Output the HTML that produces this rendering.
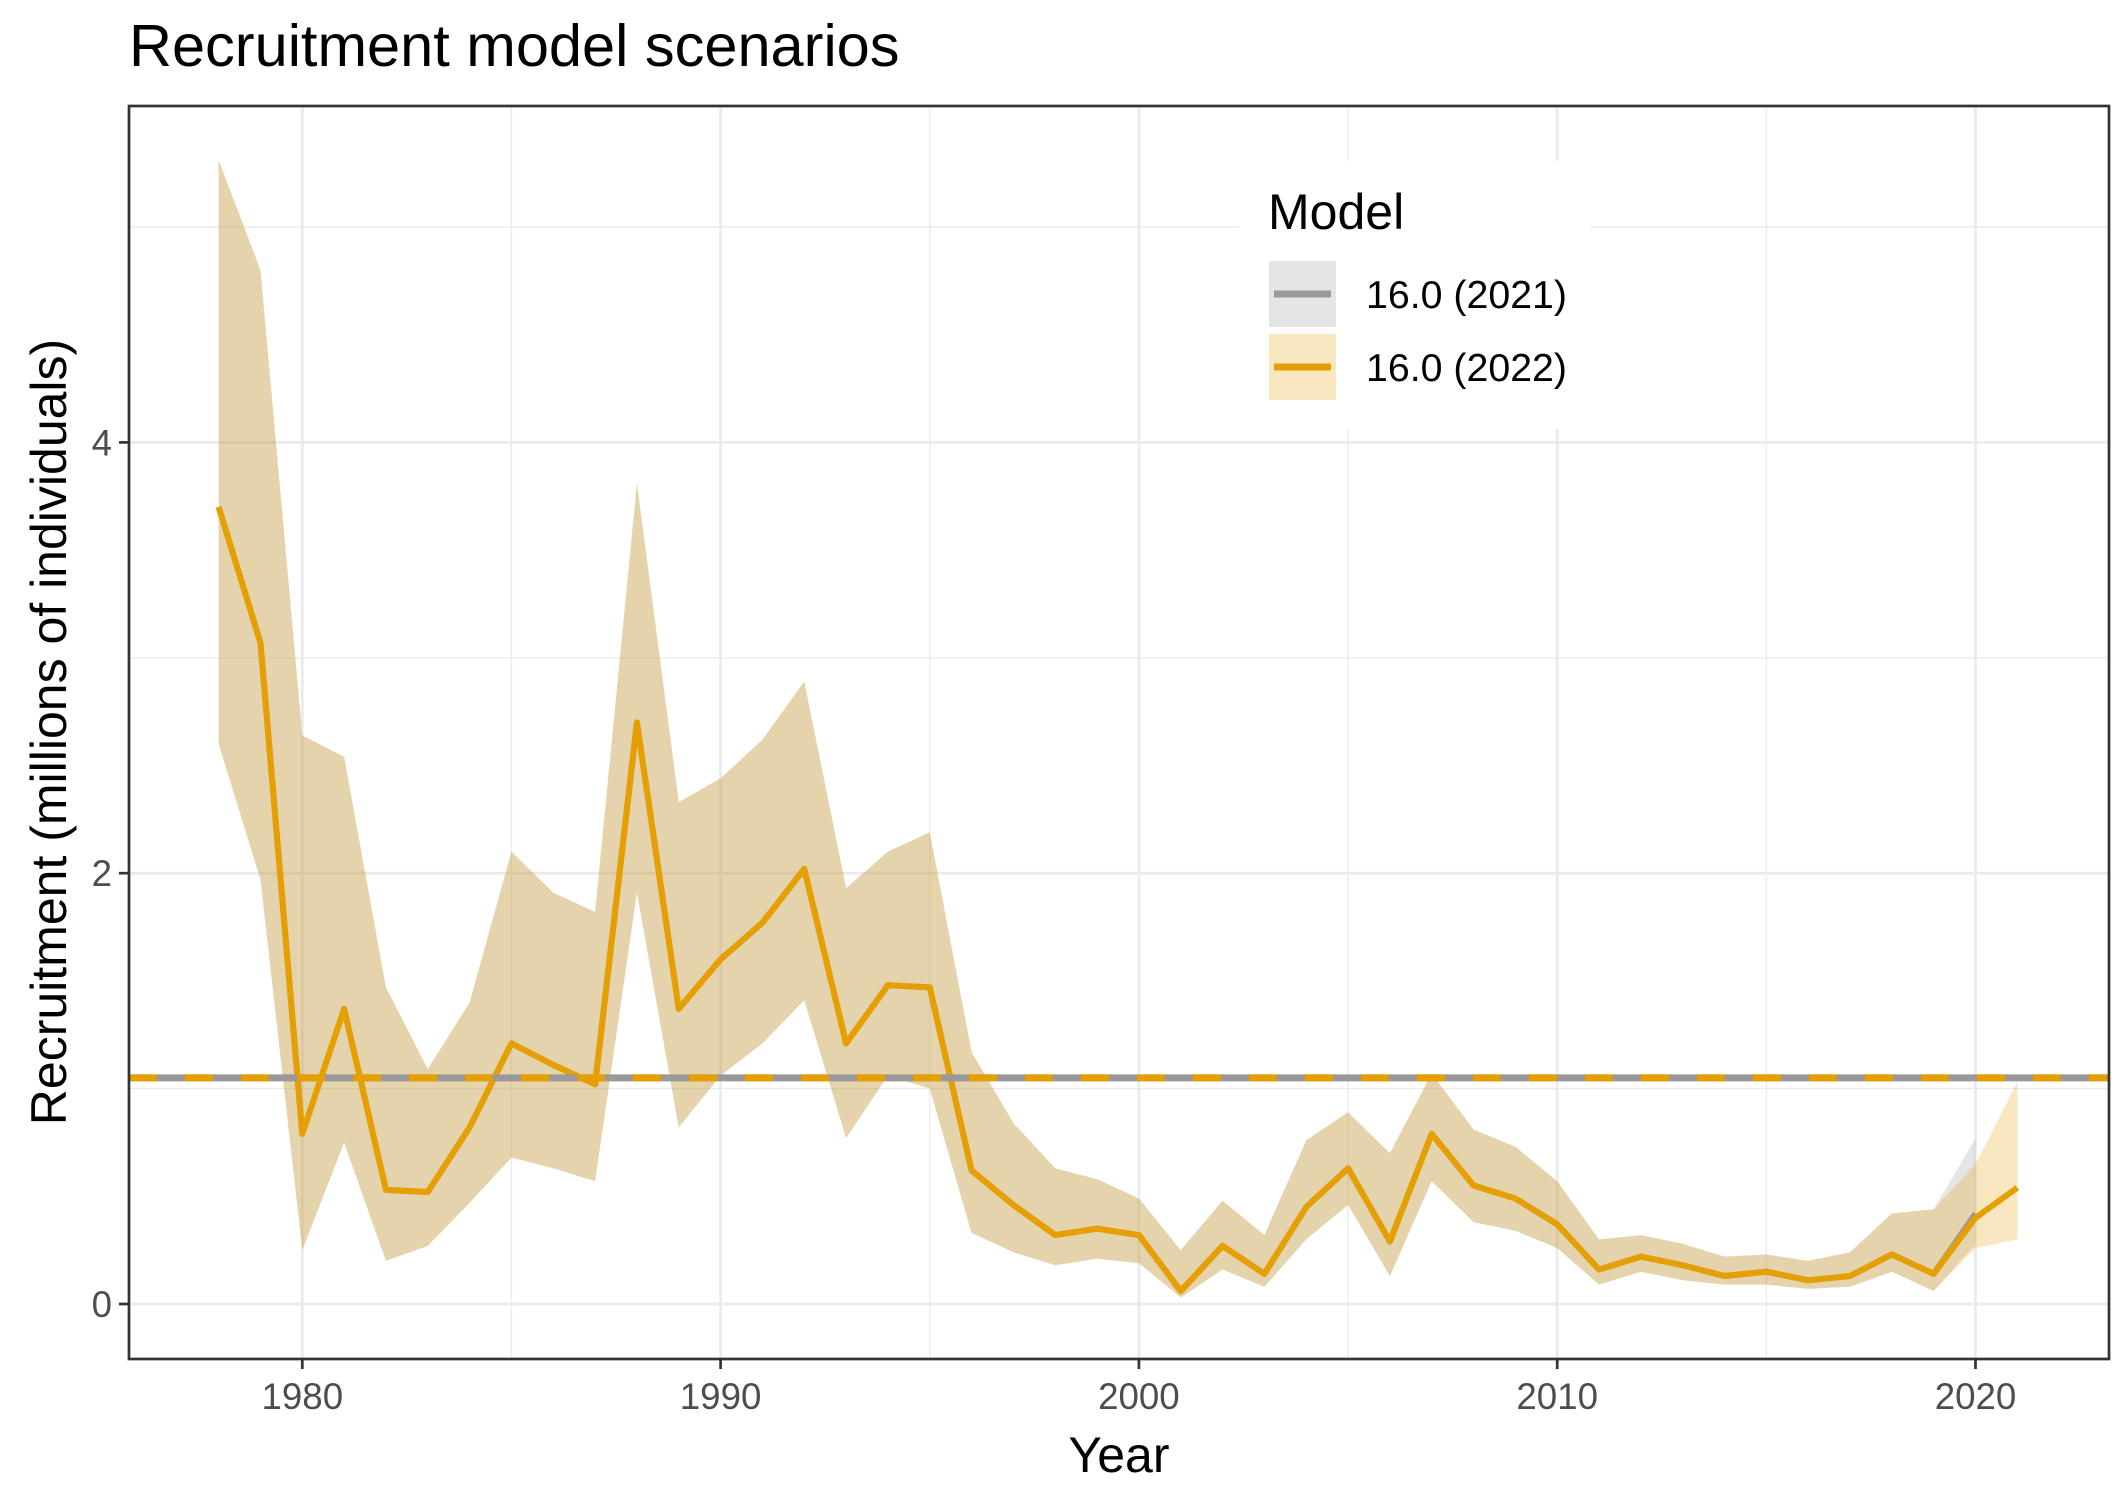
<!DOCTYPE html>
<html><head><meta charset="utf-8"><style>
html,body{margin:0;padding:0;background:#fff;}
svg{display:block;font-family:"Liberation Sans",Arial,sans-serif;}
</style></head><body>
<svg id="chart" width="2124" height="1500" viewBox="0 0 2124 1500" xmlns="http://www.w3.org/2000/svg">
<rect width="2124" height="1500" fill="#fff"/>
<text x="129" y="66" font-size="59.5" fill="#000">Recruitment model scenarios</text>
<g id="grid"></g>
<g id="series"></g>
<rect x="129" y="106" width="1980" height="1253" fill="none" stroke="#333" stroke-width="2.7"/>
<g id="axes"></g>
<text x="1119" y="1472" font-size="50" text-anchor="middle" fill="#000">Year</text>
<text transform="translate(66,732) rotate(-90)" font-size="50" text-anchor="middle" fill="#000">Recruitment (millions of individuals)</text>
<g>
<rect x="1239" y="161" width="351" height="268" fill="#fff"/>
<text x="1268" y="229" font-size="50" fill="#000">Model</text>
<g>
<rect x="1269" y="261" width="67" height="66" fill="#999" fill-opacity="0.25"/>
<line x1="1274" y1="294" x2="1331" y2="294" stroke="#999" stroke-width="7"/>
<text x="1366" y="308" font-size="39.3" fill="#000">16.0 (2021)</text>
</g>
<g>
<rect x="1269" y="334" width="67" height="66" fill="#E69F00" fill-opacity="0.25"/>
<line x1="1274" y1="367" x2="1331" y2="367" stroke="#E69F00" stroke-width="7"/>
<text x="1366" y="381" font-size="39.3" fill="#000">16.0 (2022)</text>
</g>
</g>
</svg>
<script>
const years = [1978,1979,1980,1981,1982,1983,1984,1985,1986,1987,1988,1989,1990,1991,1992,1993,1994,1995,1996,1997,1998,1999,2000,2001,2002,2003,2004,2005,2006,2007,2008,2009,2010,2011,2012,2013,2014,2015,2016,2017,2018,2019,2020,2021];
const mean2022 = [3.70,3.07,0.79,1.37,0.53,0.52,0.82,1.21,1.11,1.02,2.70,1.37,1.60,1.77,2.02,1.21,1.48,1.47,0.62,0.46,0.32,0.35,0.32,0.06,0.27,0.14,0.45,0.63,0.29,0.79,0.55,0.49,0.37,0.16,0.22,0.18,0.13,0.15,0.11,0.13,0.23,0.14,0.40,0.54];
const upper2022 = [5.31,4.80,2.64,2.54,1.47,1.09,1.40,2.10,1.91,1.82,3.81,2.33,2.44,2.62,2.89,1.93,2.10,2.19,1.17,0.84,0.63,0.58,0.49,0.25,0.48,0.32,0.76,0.89,0.70,1.07,0.81,0.73,0.57,0.30,0.32,0.28,0.22,0.23,0.20,0.24,0.42,0.44,0.65,1.03];
const lower2022 = [2.60,1.97,0.25,0.75,0.20,0.27,0.47,0.68,0.63,0.57,1.91,0.82,1.06,1.21,1.41,0.77,1.06,1.00,0.33,0.24,0.18,0.21,0.19,0.03,0.16,0.08,0.30,0.46,0.13,0.57,0.38,0.34,0.26,0.09,0.15,0.11,0.09,0.09,0.07,0.08,0.15,0.06,0.26,0.30];
const years2021 = years.slice(0,43);
const mean2021 = [3.70,3.07,0.79,1.37,0.53,0.52,0.82,1.21,1.11,1.02,2.70,1.37,1.60,1.77,2.02,1.21,1.48,1.47,0.62,0.46,0.32,0.35,0.32,0.06,0.27,0.14,0.45,0.63,0.29,0.79,0.55,0.49,0.37,0.16,0.22,0.18,0.13,0.15,0.11,0.13,0.23,0.14,0.42];
const upper2021 = [5.31,4.80,2.64,2.54,1.47,1.09,1.40,2.10,1.91,1.82,3.81,2.33,2.44,2.62,2.89,1.93,2.10,2.19,1.17,0.84,0.63,0.58,0.49,0.25,0.48,0.32,0.76,0.89,0.70,1.07,0.81,0.73,0.57,0.30,0.32,0.28,0.22,0.23,0.20,0.24,0.42,0.44,0.77];
const lower2021 = [2.60,1.97,0.25,0.75,0.20,0.27,0.47,0.68,0.63,0.57,1.91,0.82,1.06,1.21,1.41,0.77,1.06,1.00,0.33,0.24,0.18,0.21,0.19,0.03,0.16,0.08,0.30,0.46,0.13,0.57,0.38,0.34,0.26,0.09,0.15,0.11,0.09,0.09,0.07,0.08,0.15,0.06,0.28];
const refLevel2021 = 1.05;
const refLevel2022 = 1.05;
const xTicks = [1980,1990,2000,2010,2020];
const xMinor = [1985,1995,2005,2015];
const yTicks = [0,2,4];
const yMinor = [1,3,5];

const NS = "http://www.w3.org/2000/svg";
const L = 129, R = 2109, T = 106, B = 1359;
const x = v => 302.3 + (v - 1980) * 41.83;
const y = v => 1304 - v * 215.4;
function mk(tag, attrs, parent){ const e = document.createElementNS(NS, tag); for (const k in attrs) e.setAttribute(k, attrs[k]); parent.appendChild(e); return e; }
const grid = document.getElementById('grid'), series = document.getElementById('series'), axes = document.getElementById('axes');

yMinor.forEach(v => { const e = mk('line', {x1:L,x2:R,y1:y(v),y2:y(v),stroke:'#ebebeb','stroke-width':1.4}, grid);

 });
xMinor.forEach(v => { const e = mk('line', {x1:x(v),x2:x(v),y1:T,y2:B,stroke:'#ebebeb','stroke-width':1.4}, grid);

 });
yTicks.forEach(v => { const e = mk('line', {x1:L,x2:R,y1:y(v),y2:y(v),stroke:'#ebebeb','stroke-width':2.8}, grid);

 });
xTicks.forEach(v => { const e = mk('line', {x1:x(v),x2:x(v),y1:T,y2:B,stroke:'#ebebeb','stroke-width':2.8}, grid);

 });

function ribbon(ys, up, lo, color, name){
  let d = ys.map((yr,i) => (i ? 'L' : 'M') + x(yr) + ',' + y(up[i])).join('');
  for (let i = ys.length - 1; i >= 0; i--) d += 'L' + x(ys[i]) + ',' + y(lo[i]);
  const e = mk('path', {d: d + 'Z', fill: color, 'fill-opacity': 0.25}, series);
  
  
}
function line(ys, vals, color, name){
  const d = ys.map((yr,i) => (i ? 'L' : 'M') + x(yr) + ',' + y(vals[i])).join('');
  const e = mk('path', {d, fill:'none', stroke: color, 'stroke-width': 6, 'stroke-linejoin':'round'}, series);
  
  
}
ribbon(years2021, upper2021, lower2021, '#999999', 'ribbon-2021');
ribbon(years, upper2022, lower2022, '#E69F00', 'ribbon-2022');
line(years2021, mean2021, '#999999', 'line-2021');
line(years, mean2022, '#E69F00', 'line-2022');
const r1 = mk('line', {x1:L,x2:R,y1:y(refLevel2021),y2:y(refLevel2021),stroke:'#999999','stroke-width':7}, series);


const r2 = mk('line', {x1:L,x2:R,y1:y(refLevel2022),y2:y(refLevel2022),stroke:'#E69F00','stroke-width':7,'stroke-dasharray':'28 28'}, series);



xTicks.forEach(v => {
  const t = mk('line', {x1:x(v),x2:x(v),y1:B,y2:B+10,stroke:'#333','stroke-width':2.7}, axes);
  
  
  const l = mk('text', {x:x(v), y:B+50, 'font-size':36.7, 'text-anchor':'middle', fill:'#4d4d4d'}, axes);
  l.textContent = v;
  
  
});
yTicks.forEach(v => {
  const t = mk('line', {x1:L-10,x2:L,y1:y(v),y2:y(v),stroke:'#333','stroke-width':2.7}, axes);
  
  
  const l = mk('text', {x:L-17, y:y(v)+13, 'font-size':36.7, 'text-anchor':'end', fill:'#4d4d4d'}, axes);
  l.textContent = v;
  
  
});
</script>
</body></html>
